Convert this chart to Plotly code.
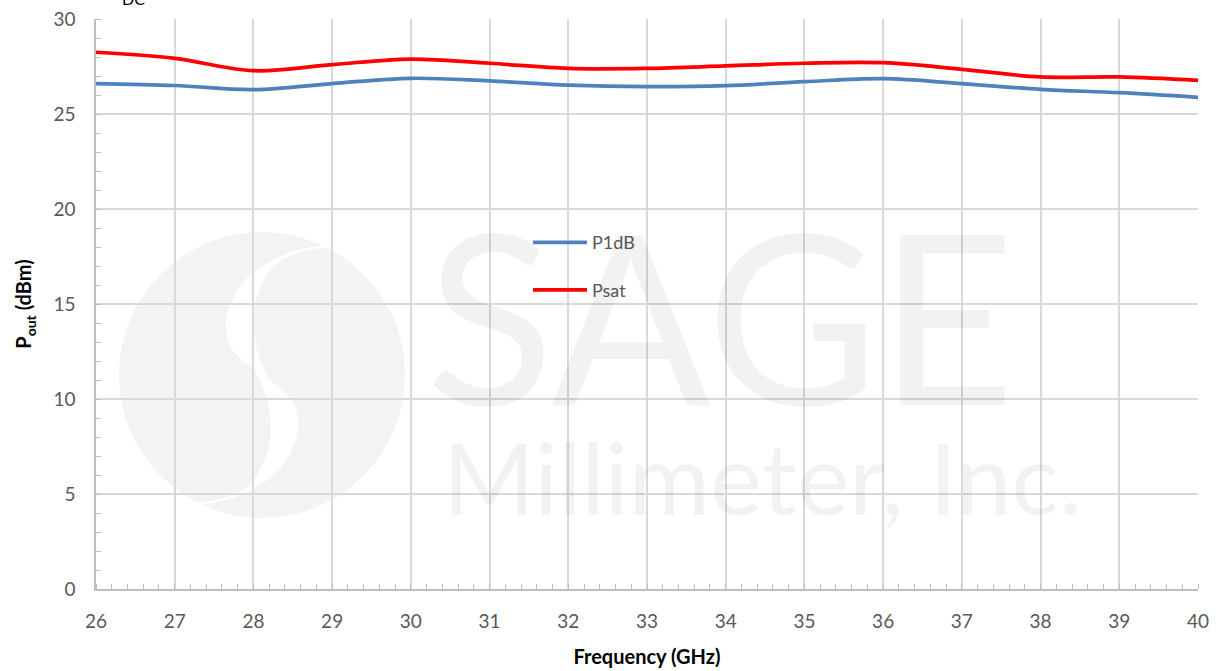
import numpy as np
import plotly.graph_objects as go

# ---- data ----
freq = [26, 27, 28, 29, 30, 31, 32, 33, 34, 35, 36, 37, 38, 39, 40]
p1db = [26.6, 26.5, 26.28, 26.6, 26.88, 26.74, 26.52, 26.44, 26.49, 26.7, 26.86, 26.6, 26.3, 26.12, 25.88]
psat = [28.25, 27.93, 27.28, 27.6, 27.89, 27.67, 27.4, 27.4, 27.53, 27.67, 27.7, 27.35, 26.95, 26.95, 26.77]
series_names = ["P1dB", "Psat"]
x_ticks = list(range(26, 41))
y_ticks = [0, 5, 10, 15, 20, 25, 30]

FONT = "Lato"
W, H = 1219, 671
ML, MR, MT, MB = 96, 21, 19, 82
X0, X1, Y0, Y1 = 26, 40, 0, 30
pw, ph = W - ML - MR, H - MT - MB


def px2data(px, py):
    return X0 + (px - ML) / pw * (X1 - X0), Y1 - (py - MT) / ph * (Y1 - Y0)


fig = go.Figure()
fig.add_trace(go.Scatter(x=freq, y=p1db, name=series_names[0], mode="lines",
                         line=dict(color="#4f81bd", width=3.7, shape="spline", smoothing=1.0),
                         legendgroup="a"))
fig.add_trace(go.Scatter(x=freq, y=psat, name=series_names[1], mode="lines",
                         line=dict(color="#ff0000", width=3.7, shape="spline", smoothing=1.0),
                         legendgroup="b"))

# ---- watermark logo (decorative) ----
cx, cy = px2data(262, 375)
rx = 143 / pw * (X1 - X0)
ry = 143 / ph * (Y1 - Y0)
shapes = [dict(type="circle", xref="x", yref="y", x0=cx - rx, x1=cx + rx, y0=cy - ry, y1=cy + ry,
               fillcolor="#f3f3f3", line=dict(width=0), layer="below")]

# S band (zoom coords of crop at 110,220 scaled x3)
left_b = [(650, 72), (520, 105), (405, 180), (350, 290), (362, 380), (420, 440), (470, 472)]
right_b = [(476, 472), (450, 420), (432, 340), (438, 240), (490, 140), (570, 97), (660, 80)]


def zconv(pts):
    return [(110 + x / 3, 220 + y / 3) for x, y in pts]


def catmull(pts, n=8):
    pts = np.array(pts, dtype=float)
    P = np.vstack([pts[0], pts, pts[-1]])
    out = []
    for i in range(1, len(P) - 2):
        p0, p1, p2, p3 = P[i - 1], P[i], P[i + 1], P[i + 2]
        for t in np.linspace(0, 1, n, endpoint=False):
            out.append(0.5 * ((2 * p1) + (-p0 + p2) * t + (2 * p0 - 5 * p1 + 4 * p2 - p3) * t * t
                              + (-p0 + 3 * p1 - 3 * p2 + p3) * t ** 3))
    out.append(P[-2])
    return out


upper = catmull(zconv(left_b)) + catmull(zconv(right_b))
ccx, ccy = 262, 375
lower = [(2 * ccx - x, 2 * ccy - y) for x, y in upper]
for poly in (upper, lower):
    d = ""
    for i, (x, y) in enumerate(poly):
        dx, dy = px2data(x, y)
        d += ("M" if i == 0 else "L") + f"{dx:.4f},{dy:.4f}"
    d += "Z"
    shapes.append(dict(type="path", xref="x", yref="y", path=d, fillcolor="white",
                       line=dict(width=0), layer="below"))

wm_col = "rgba(0,0,0,0.05)"
sx, sy = px2data(720, 313)
mx, my = px2data(762, 476)
annotations = [
    dict(text="SAGE", x=sx, y=sy, xref="x", yref="y", showarrow=False,
         font=dict(family=FONT, size=236, color=wm_col)),
    dict(text="Millimeter, Inc.", x=mx, y=my, xref="x", yref="y", showarrow=False,
         font=dict(family=FONT, size=99, color=wm_col)),
    dict(text="DC", x=(120 - ML) / pw, y=1 + 9 / ph, xref="paper", yref="paper",
         showarrow=False, xanchor="left", yanchor="bottom",
         font=dict(family=FONT, size=16, color="#000000")),
]

fig.update_layout(
    width=W, height=H,
    margin=dict(l=ML, r=MR, t=MT, b=MB, autoexpand=False),
    plot_bgcolor="white", paper_bgcolor="white",
    font=dict(family=FONT, color="#595959"),
    shapes=shapes, annotations=annotations,
    legend=dict(x=0.392, y=0.64, xanchor="left", yanchor="top", bgcolor="rgba(0,0,0,0)",
                font=dict(family=FONT, size=18, color="#595959"), itemwidth=54,
                tracegroupgap=21, traceorder="grouped"),
    showlegend=True,
)
fig.update_xaxes(range=[X0, X1], tickvals=x_ticks, ticktext=[str(v) for v in x_ticks],
                 automargin=False,
                 showgrid=True, gridcolor="#d9d9d9", gridwidth=1.5,
                 showline=True, linecolor="#bfbfbf", linewidth=1.5,
                 ticks="", ticklabelstandoff=14,
                 tickfont=dict(family=FONT, size=19, color="#595959"),
                 minor=dict(dtick=0.2, tick0=26, ticks="inside", ticklen=5, tickcolor="#bfbfbf",
                            showgrid=False),
                 title=dict(text="<b>Frequency (GHz)</b>", font=dict(family=FONT, size=20, color="#000000"),
                            standoff=19),
                 zeroline=False)
fig.update_yaxes(range=[Y0, Y1], tickvals=y_ticks, ticktext=[str(v) for v in y_ticks],
                 automargin=False,
                 showgrid=True, gridcolor="#d9d9d9", gridwidth=1.5,
                 showline=True, linecolor="#bfbfbf", linewidth=1.5,
                 ticks="", ticklabelstandoff=15,
                 tickfont=dict(family=FONT, size=19, color="#595959"),
                 minor=dict(dtick=1, tick0=0, ticks="inside", ticklen=5, tickcolor="#bfbfbf",
                            showgrid=False),
                 title=dict(text="<b>P<sub>out</sub> (dBm)</b>", font=dict(family=FONT, size=20, color="#000000"),
                            standoff=16),
                 zeroline=False)

fig.write_html("out.html", config={"displayModeBar": False},
               post_script="document.body.style.margin='0px';")
